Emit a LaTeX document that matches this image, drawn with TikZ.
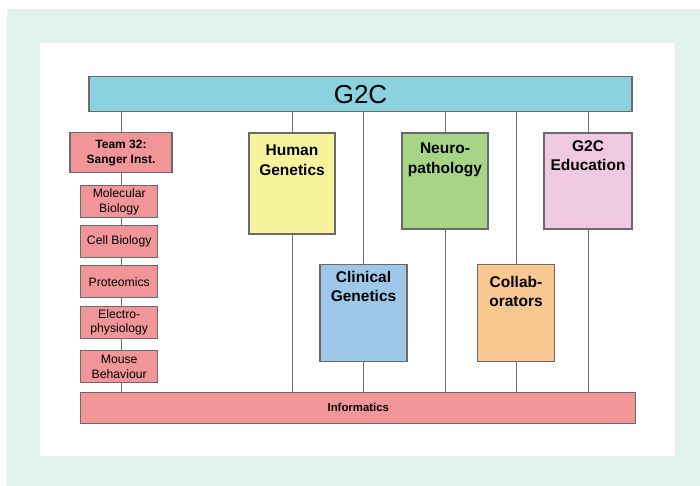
\documentclass[tikz,border=0pt]{standalone}
\usepackage{fontspec}
\setmainfont{Liberation Sans}

\definecolor{panelgreen}{HTML}{E2F2ED}
\definecolor{boxline}{HTML}{6A6A6A}
\definecolor{linkgray}{HTML}{707070}
\definecolor{g2cblue}{HTML}{8AD2DF}
\definecolor{unitpink}{HTML}{F29598}
\definecolor{hgenyellow}{HTML}{F7F29C}
\definecolor{clinblue}{HTML}{9DC8EA}
\definecolor{neurogreen}{HTML}{A6D585}
\definecolor{collaborange}{HTML}{F9C790}
\definecolor{edulilac}{HTML}{EFC9E2}

\begin{document}
\begin{tikzpicture}[x=1pt, y=-1pt,
        box/.style={draw=boxline, line width=1.1pt, inner sep=0pt, align=center},
        unit/.style={box, fill=unitpink, minimum width=77pt, minimum height=32pt,
            font=\fontsize{12.2}{14.5}\selectfont},
        group/.style={box, minimum height=97pt},
        grouptext/.style={anchor=north, align=center, inner sep=0pt,
            font=\fontsize{15.5}{19.5}\selectfont\bfseries},
        link/.style={draw=linkgray, line width=1pt}]
        \useasboundingbox (0, 0) rectangle (700, 486);
        \fill[panelgreen] (7, 9) rectangle (700, 486);
        \fill[white] (40, 43) rectangle (675, 456);

        \node[box, fill=g2cblue, minimum width=543pt, minimum height=35pt,
            font=\fontsize{26}{30}\selectfont] (g2c) at (360.5, 94.3) {G2C};
        \node[box, fill=unitpink, minimum width=555pt, minimum height=31pt,
            font=\fontsize{11.4}{14}\selectfont\bfseries] (info) at (358.3, 407.8) {Informatics};

        % Sanger column
        \node[box, fill=unitpink, minimum width=102pt, minimum height=40pt,
            font=\fontsize{12}{15}\selectfont\bfseries] (team) at (121, 152.7) {Team 32:\\Sanger Inst.};
        \node[unit] (molbio) at (119.2, 201.7) {Molecular\\Biology};
        \node[unit] (cellbio) at (119.2, 241.7) {Cell Biology};
        \node[unit] (prot) at (119.2, 281.9) {Proteomics};
        \node[unit] (elec) at (119.2, 322.3) {Electro-\\physiology};
        \node[unit] (mouse) at (119.2, 366.8) {Mouse\\Behaviour};

        \node[group, fill=hgenyellow, minimum width=86pt, minimum height=101pt,
            label={[grouptext, yshift=-12.5pt]north:Human\\Genetics}] (hgen) at (292, 183.5) {};
        \node[group, fill=clinblue, minimum width=87pt,
            label={[grouptext, yshift=-7pt]north:Clinical\\Genetics}] (clin) at (363.5, 313) {};
        \node[group, fill=neurogreen, minimum width=86pt, minimum height=96pt,
            label={[grouptext, yshift=-10.5pt]north:Neuro-\\pathology}] (neuro) at (445, 181) {};
        \node[group, fill=collaborange, minimum width=77pt,
            label={[grouptext, yshift=-12pt]north:Collab-\\orators}] (collab) at (516, 313) {};
        \node[group, fill=edulilac, minimum width=88pt, minimum height=96pt,
            label={[grouptext, yshift=-8pt]north:G2C\\Education}] (edu) at (588, 181) {};

        \draw[link] (team.north) -- (team.north |- g2c.south);
        \draw[link] (team.south) -- (team.south |- molbio.north);
        \draw[link] (team.south |- molbio.south) -- (team.south |- cellbio.north);
        \draw[link] (team.south |- cellbio.south) -- (team.south |- prot.north);
        \draw[link] (team.south |- prot.south) -- (team.south |- elec.north);
        \draw[link] (team.south |- elec.south) -- (team.south |- mouse.north);
        \draw[link] (team.south |- mouse.south) -- (team.south |- info.north);

        \foreach \g in {hgen, clin, neuro, collab, edu} {
            \draw[link] (\g.north) -- (\g.north |- g2c.south);
            \draw[link] (\g.south) -- (\g.south |- info.north);
        }
\end{tikzpicture}
\end{document}
